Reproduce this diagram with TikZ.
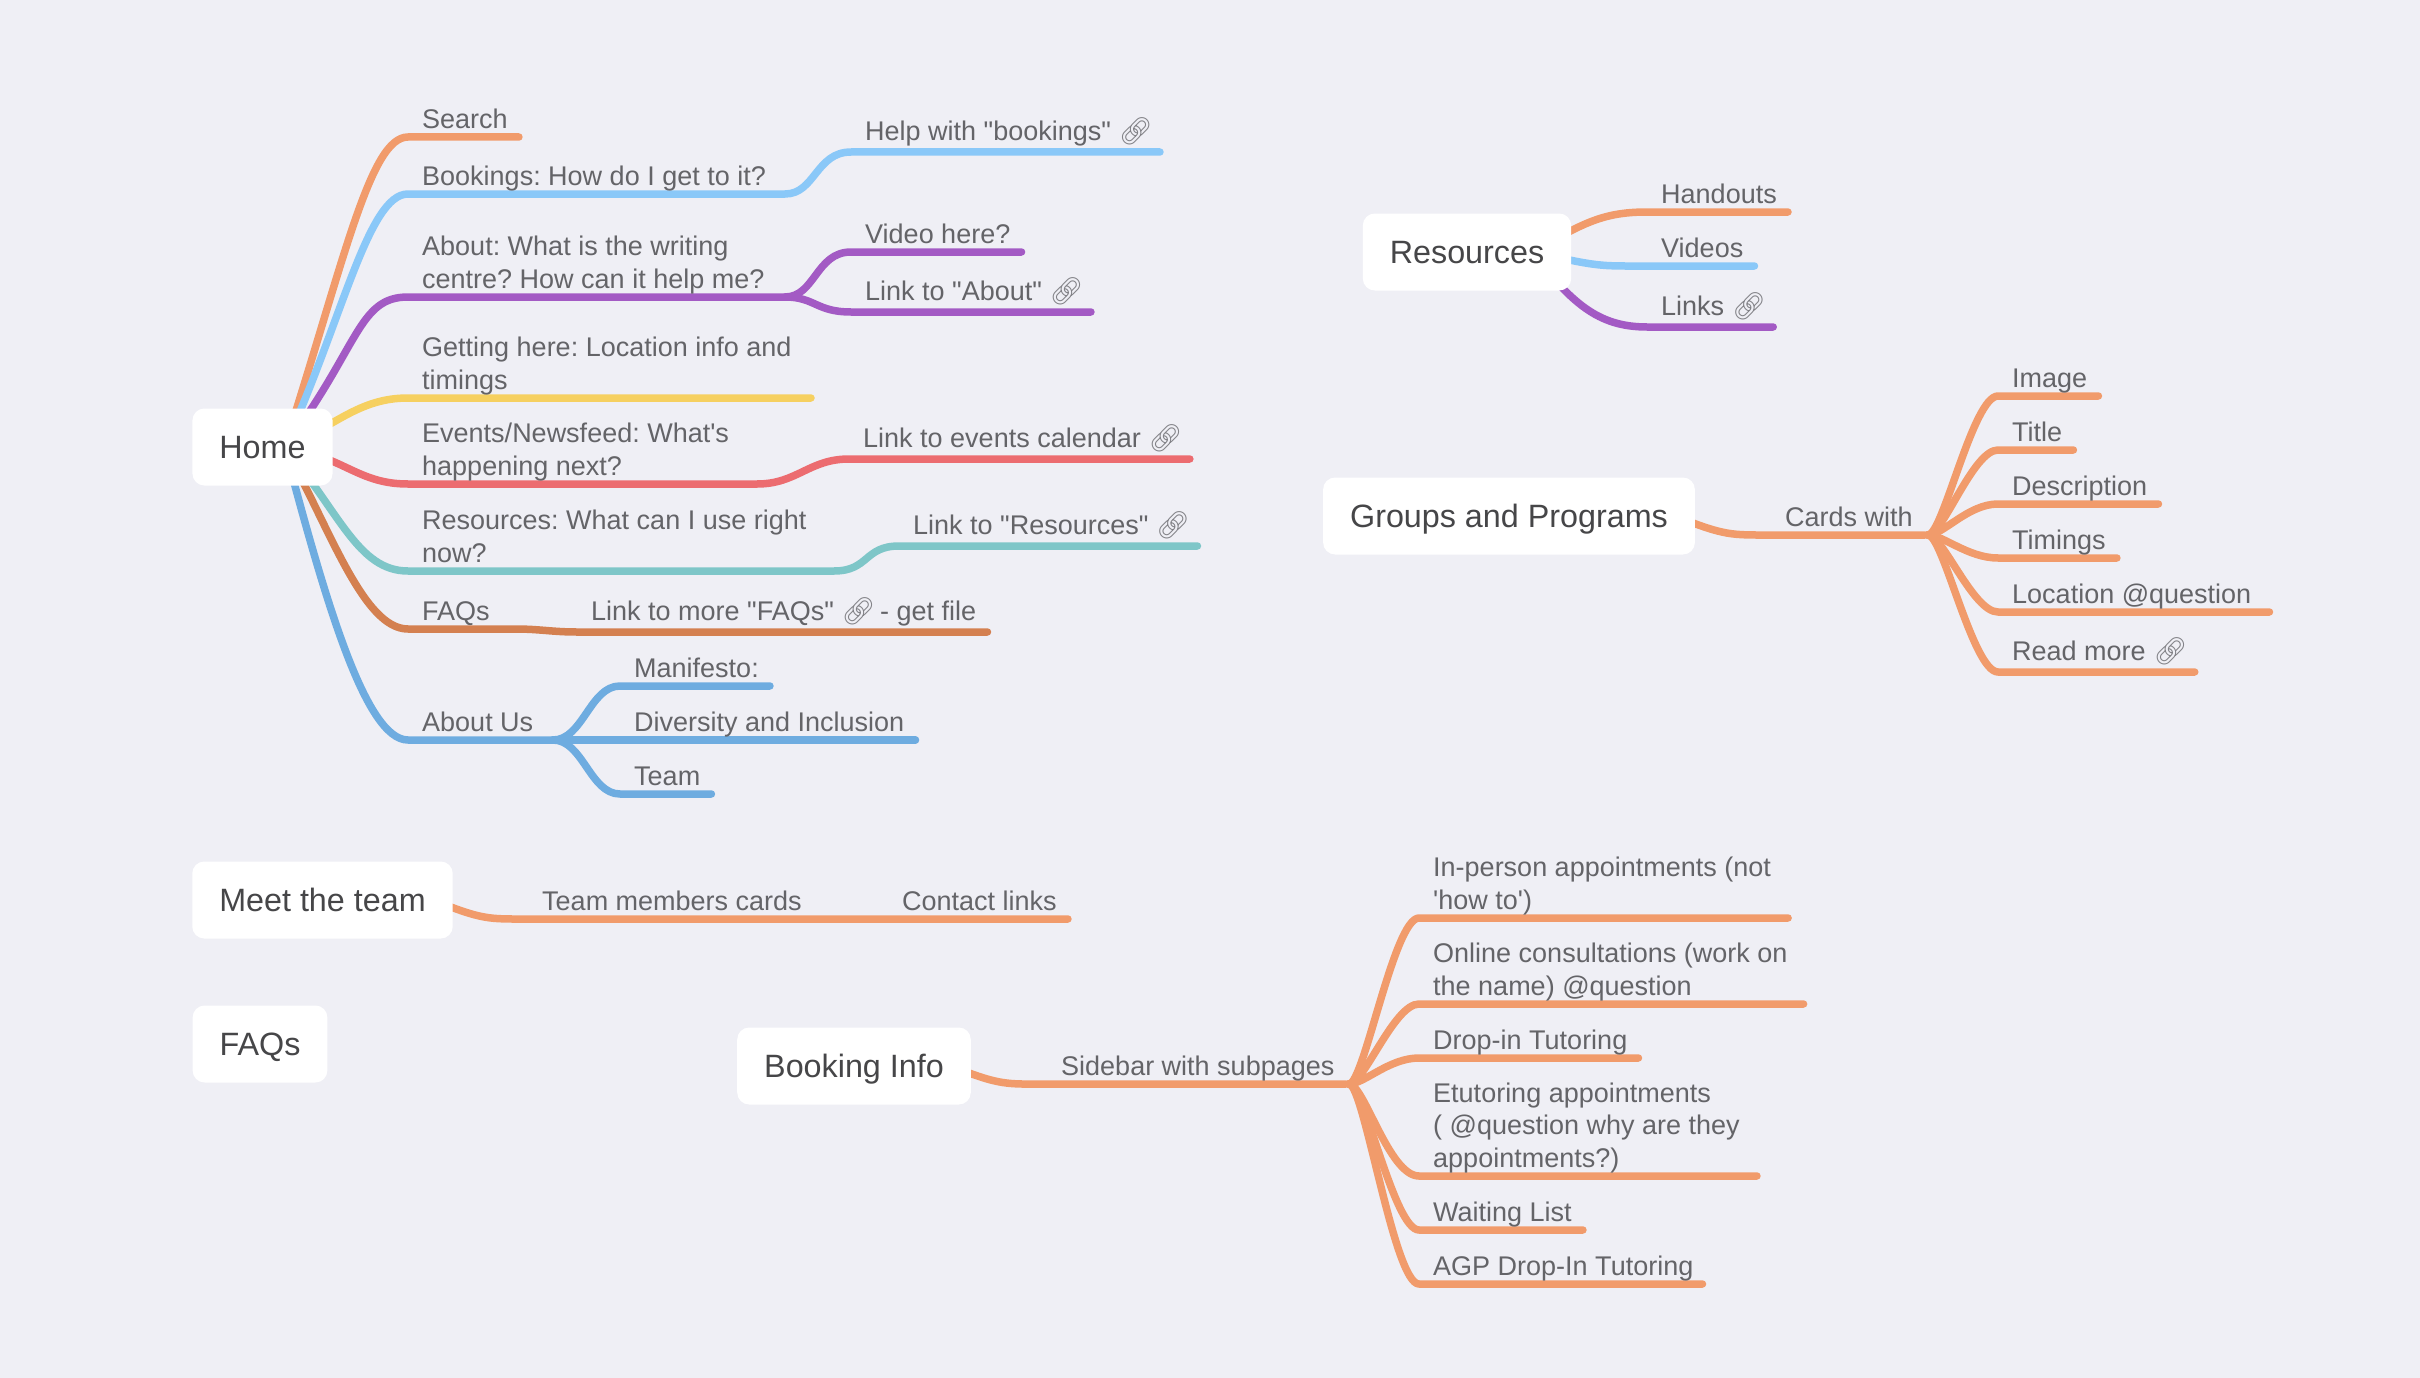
\documentclass[tikz,border=0pt]{standalone}
\usepackage{fontspec}
\defaultfontfeatures[\rmfamily]{}
\setmainfont{Liberation Sans}
\newfontfamily\emojifont{Noto Emoji}
\usepackage{xcolor}
\usetikzlibrary{backgrounds}
\definecolor{pagebg}{RGB}{239,239,245}
\definecolor{roottext}{RGB}{70,70,72}
\definecolor{leaftext}{RGB}{100,100,104}
\definecolor{linkgray}{RGB}{130,130,135}
\definecolor{corange}{RGB}{241,155,107}
\definecolor{cblue}{RGB}{138,200,248}
\definecolor{cpurple}{RGB}{163,90,196}
\definecolor{cyellow}{RGB}{246,208,96}
\definecolor{cred}{RGB}{236,108,112}
\definecolor{cteal}{RGB}{126,198,200}
\definecolor{cbrown}{RGB}{212,128,80}
\definecolor{csteel}{RGB}{110,172,224}
\newcommand{\linkicon}{{\emojifont\color{linkgray}🔗}\hspace*{-4pt}}

\begin{document}
\begin{tikzpicture}[x=1pt, y=-1pt,
    rootbox/.style={fill=white, rounded corners=12pt, minimum height=77pt, inner xsep=27pt, inner ysep=0pt, text height=23pt, text depth=0pt, text=roottext, font=\fontsize{32.3}{38}\selectfont},
    leaf/.style={anchor=south west, inner xsep=14pt, inner ysep=0pt, text depth=8.5pt, align=left, text=leaftext, font=\fontsize{27}{32.4}\selectfont\frenchspacing},
    linkleaf/.style={leaf, text depth=11.5pt},
    branch/.style={line width=7.5pt, line cap=round, line join=round, shorten >=3pt}]
    \useasboundingbox (0,0) rectangle (2420,1378);
    \begin{pgfonlayer}{background}
        \fill[pagebg] (0,0) rectangle (2420,1378);
    \end{pgfonlayer}

    \node[rootbox] (home) at (262.5,447) {Home};
    \node[rootbox] (resources) at (1467,252) {Resources};
    \node[rootbox] (groups) at (1509,516) {Groups and Programs};
    \node[rootbox] (meet) at (322.5,900) {Meet the team};
    \node[rootbox] (faqsroot) at (260,1044) {FAQs};
    \node[rootbox] (booking) at (854,1066) {Booking Info};

    \node[leaf] (search) at (408,137) {Search};
    \node[leaf] (bookings) at (408,194) {Bookings: How do I get to it?};
    \coordinate (bookingsend) at (785,194);
    \node[linkleaf] (help) at (851,152) {Help with "bookings" \linkicon};
    \node[leaf] (about) at (408,297) {About: What is the writing\\centre? How can it help me?};
    \coordinate (aboutend) at (785,297);
    \node[leaf] (video) at (851,252) {Video here?};
    \node[linkleaf] (linkabout) at (851,312) {Link to "About" \linkicon};
    \node[leaf] (getting) at (408,398) {Getting here: Location info and\\timings};
    \coordinate (gettingend) at (814,398);
    \node[leaf] (events) at (408,484) {Events/Newsfeed: What's\\happening next?};
    \coordinate (eventsend) at (757,484);
    \node[linkleaf] (linkevents) at (849,459) {Link to events calendar \linkicon};
    \node[leaf] (resitem) at (408,571) {Resources: What can I use right\\now?};
    \coordinate (resitemend) at (834,571);
    \node[linkleaf] (linkres) at (899,546) {Link to "Resources" \linkicon};
    \node[leaf] (faqs) at (408,629) {FAQs};
    \coordinate (faqsend) at (515,629);
    \node[linkleaf] (linkfaqs) at (577,632) {Link to more "FAQs" \linkicon\hspace*{1pt} - get file};
    \node[leaf] (aboutus) at (408,740) {About Us};
    \coordinate (aboutusend) at (553,740);
    \node[leaf] (manifesto) at (620,686) {Manifesto:};
    \node[leaf] (diversity) at (620,740) {Diversity and Inclusion};
    \node[leaf] (team) at (620,794) {Team};

    \node[leaf] (handouts) at (1647,212) {Handouts};
    \node[leaf] (videos) at (1647,266) {Videos};
    \node[linkleaf] (links) at (1647,327) {Links \linkicon};

    \node[leaf] (cards) at (1771,535) {Cards with};
    \coordinate (cardsend) at (1928,535);
    \node[leaf] (image) at (1998,396) {Image};
    \node[leaf] (title) at (1998,450) {Title};
    \node[leaf] (description) at (1998,504) {Description};
    \node[leaf] (timings) at (1998,558) {Timings};
    \node[leaf] (location) at (1998,612) {Location @question};
    \node[linkleaf] (readmore) at (1998,672) {Read more \linkicon};

    \node[leaf] (members) at (528,919) {Team members cards};
    \node[leaf] (contact) at (888,919) {Contact links};

    \node[leaf] (sidebar) at (1047,1084) {Sidebar with subpages};
    \coordinate (sidebarend) at (1349,1084);
    \node[leaf] (inperson) at (1419,918) {In-person appointments (not\\'how to')};
    \node[leaf] (online) at (1419,1004) {Online consultations (work on\\the name) @question};
    \node[leaf] (dropin) at (1419,1058) {Drop-in Tutoring};
    \node[leaf] (etutoring) at (1419,1176) {Etutoring appointments\\( @question why are they\\appointments?)};
    \node[leaf] (waiting) at (1419,1230) {Waiting List};
    \node[leaf] (agp) at (1419,1284) {AGP Drop-In Tutoring};

    \begin{pgfonlayer}{background}
        \draw[branch, corange] ([xshift=22pt]home.center) .. controls +(60,-187) and +(-38,0) .. (search.south west) -- (search.south east);
        \draw[branch, cblue] ([xshift=22pt]home.center) .. controls +(58,-127) and +(-40,0) .. (bookings.south west) -- (bookingsend) .. controls +(30,0) and +(-35,0) .. (help.south west) -- (help.south east);
        \draw[branch, cpurple] ([xshift=22pt]home.center) .. controls +(75,-100) and +(-50,0) .. (about.south west) -- (aboutend) .. controls +(30,0) and +(-35,0) .. (video.south west) -- (video.south east);
        \draw[branch, cpurple] (aboutend) .. controls +(30,0) and +(-35,0) .. (linkabout.south west) -- (linkabout.south east);
        \draw[branch, cyellow] ([xshift=22pt]home.center) .. controls +(50,-20) and +(-50,0) .. (getting.south west) -- (gettingend);
        \draw[branch, cred] ([xshift=22pt]home.center) .. controls +(60,10) and +(-50,0) .. (events.south west) -- (eventsend) .. controls +(40,0) and +(-40,0) .. (linkevents.south west) -- (linkevents.south east);
        \draw[branch, cteal] ([xshift=22pt]home.center) .. controls +(55,65) and +(-50,0) .. (resitem.south west) -- (resitemend) .. controls +(35,0) and +(-35,0) .. (linkres.south west) -- (linkres.south east);
        \draw[branch, cbrown] ([xshift=22pt]home.center) .. controls +(45,80) and +(-45,0) .. (faqs.south west) -- (faqsend) .. controls +(25,0) and +(-25,0) .. (linkfaqs.south west) -- (linkfaqs.south east);
        \draw[branch, csteel] ([xshift=22pt]home.center) .. controls +(40,150) and +(-43,0) .. (aboutus.south west) -- (aboutusend) .. controls +(30,0) and +(-30,0) .. (manifesto.south west) -- (manifesto.south east);
        \draw[branch, csteel] (aboutusend) -- (diversity.south west) -- (diversity.south east);
        \draw[branch, csteel] (aboutusend) .. controls +(30,0) and +(-30,0) .. (team.south west) -- (team.south east);

        \draw[branch, corange] ([xshift=-40pt]resources.east) .. controls +(50,-27) and +(-47,0) .. (handouts.south west) -- (handouts.south east);
        \draw[branch, cblue] ([xshift=-40pt]resources.east) .. controls +(70,15) and +(-50,0) .. (videos.south west) -- (videos.south east);
        \draw[branch, cpurple] ([xshift=-40pt]resources.east) .. controls +(40,50) and +(-50,0) .. (links.south west) -- (links.south east);

        \draw[branch, corange] ([xshift=-20pt]groups.east) .. controls +(50,20) and +(-40,0) .. (cards.south west) -- (cardsend);
        \foreach \leafname/\ctrl/\trim in {image/-25/3, title/-25/3, description/-30/3, timings/-30/3, location/-25/-4, readmore/-25/3}
            \draw[branch, corange, shorten >=\trim pt] (cardsend) .. controls +(15,0) and +(\ctrl,0) .. (\leafname.south west) -- (\leafname.south east);

        \draw[branch, corange] ([xshift=-20pt]meet.east) .. controls +(50,20) and +(-40,0) .. (members.south west) -- (members.south east) -- (contact.south west) -- (contact.south east);

        \draw[branch, corange] ([xshift=-20pt]booking.east) .. controls +(50,20) and +(-40,0) .. (sidebar.south west) -- (sidebarend);
        \foreach \leafname/\ctrl/\trim in {inperson/-25/-3, online/-25/-2, dropin/-30/3, etutoring/-30/-3, waiting/-25/3, agp/-25/5}
            \draw[branch, corange, shorten >=\trim pt] (sidebarend) .. controls +(15,0) and +(\ctrl,0) .. (\leafname.south west) -- (\leafname.south east);
    \end{pgfonlayer}
\end{tikzpicture}
\end{document}
